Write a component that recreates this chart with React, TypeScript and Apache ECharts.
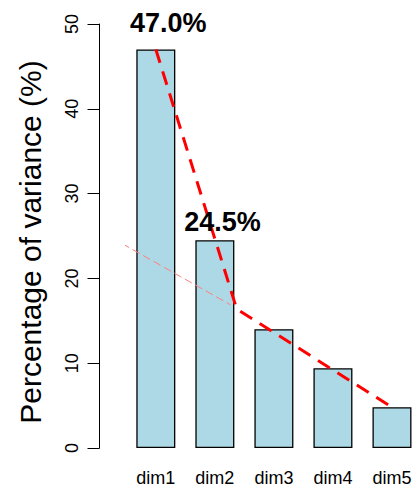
import React, { useEffect, useRef } from "react";
import * as echarts from "echarts";

const categories = ["dim1", "dim2", "dim3", "dim4", "dim5"];
const variance = [47.0, 24.5, 14.0, 9.4, 4.8];
const barLabels = ["47.0%", "24.5%", "", "", ""];
const elbowX = [0, 1.37, 4];
const elbowY = [47.0, 16.4, 4.8];
const refX = [-0.57, 1.26];
const refY = [24.1, 16.9];
const yMin = 0;
const yMax = 50;
const yStep = 10;

const FONT = "'Liberation Sans', Arial, Helvetica, sans-serif";

export default function App() {
  const ref = useRef<HTMLDivElement>(null);
  useEffect(() => {
    if (!ref.current) return;
    const chart = echarts.init(ref.current, null, { renderer: "svg" });
    const labelOffsets = [
      [12.5, -8],
      [7.7, 0],
      [0, 0],
      [0, 0],
      [0, 0],
    ];
    const gridLeft = 126.3;
    const band = 59.04;
    const chartW = 417;
    const xMin = -0.5;
    const xMax = xMin + (chartW - gridLeft) / band;
    const positions = categories.map((_, i) => i);
    chart.setOption({
      animation: false,
      backgroundColor: "#ffffff",
      textStyle: { fontFamily: FONT },
      grid: { left: gridLeft, top: 24, right: 0, height: 424, containLabel: false },
      xAxis: {
        type: "value",
        min: xMin,
        max: xMax,
        splitLine: { show: false },
        axisLine: { show: false },
        axisTick: { show: false },
        axisLabel: {
          color: "#000",
          fontSize: 18,
          margin: 21,
          fontFamily: FONT,
          customValues: positions,
          formatter: (v: number) => categories[Math.round(v)] ?? "",
        },
      },
      yAxis: {
        type: "value",
        min: yMin,
        max: yMax,
        interval: yStep,
        offset: 26.8,
        splitLine: { show: false },
        axisLine: { show: true, onZero: false, lineStyle: { color: "#000", width: 1 } },
        axisTick: { show: true, length: 12, lineStyle: { color: "#000", width: 1 } },
        axisLabel: { color: "#000", fontSize: 18, rotate: 90, margin: 19, fontFamily: FONT },
      },
      graphic: [
        {
          type: "text",
          x: 30,
          y: 242,
          rotation: Math.PI / 2,
          style: {
            text: "Percentage of variance (%)",
            font: `30px ${FONT}`,
            fill: "#000",
            textAlign: "center",
            textVerticalAlign: "middle",
          },
        },
      ],
      series: [
        {
          type: "bar",
          data: variance.map((v, i) => [positions[i], v]),
          barWidth: 39,
          z: 1,
          itemStyle: { color: "#ADD8E6", borderColor: "#000", borderWidth: 1.3 },
        },
        {
          type: "line",
          data: refX.map((x, i) => [x, refY[i]]),
          symbol: "none",
          clip: false,
          z: 2,
          lineStyle: { color: "#FF7F7F", width: 1, type: [8, 4] },
        },
        {
          type: "line",
          data: elbowX.map((x, i) => [x, elbowY[i]]),
          symbol: "none",
          clip: false,
          z: 3,
          lineStyle: { color: "#FF0000", width: 3, type: [14, 9] },
        },
        {
          type: "bar",
          barWidth: 39,
          barGap: "-100%",
          z: 5,
          silent: true,
          itemStyle: { color: "transparent", borderWidth: 0 },
          data: variance.map((v, i) => ({
            value: [positions[i], v],
            label: {
              show: barLabels[i] !== "",
              formatter: barLabels[i],
              position: "top",
              distance: 5,
              offset: labelOffsets[i],
              fontSize: 27,
              fontWeight: "bold",
              color: "#000",
              fontFamily: FONT,
            },
          })),
        },
      ],
    });
    return () => chart.dispose();
  }, []);
  return (
    <div
      ref={ref}
      style={{ position: "fixed", left: 0, top: 0, width: 417, height: 490, background: "#fff" }}
    />
  );
}
